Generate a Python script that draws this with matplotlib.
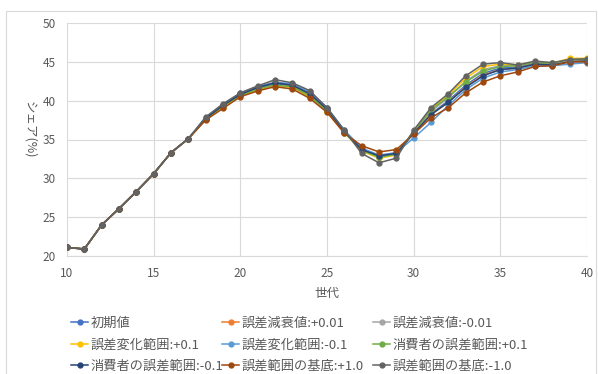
import matplotlib.pyplot as plt
from matplotlib.patches import Rectangle

plt.rcParams['font.family'] = ['Noto Sans CJK JP', 'DejaVu Sans']

generation = list(range(10, 41))

# 10-17 are shared by every run
start = [21.1, 20.9, 24.0, 26.1, 28.3, 30.6, 33.3, 35.1]

initial = start + [37.7, 39.3, 40.8, 41.6, 42.2, 41.9, 40.8, 38.8, 36.0, 33.7, 32.8, 33.2,
                   35.9, 38.3, 40.0, 42.0, 43.5, 44.2, 44.3, 44.8, 44.7, 45.1, 45.2]
decay_plus = start + [37.6, 39.2, 40.7, 41.5, 42.0, 41.8, 40.7, 38.8, 36.0, 33.8, 32.9, 33.3,
                      35.9, 38.2, 39.8, 41.8, 43.3, 44.0, 44.2, 44.7, 44.7, 45.1, 45.1]
decay_minus = start + [37.8, 39.4, 40.9, 41.8, 42.4, 42.1, 41.0, 39.0, 36.1, 33.6, 32.7, 33.1,
                       36.0, 38.6, 40.4, 42.5, 44.0, 44.5, 44.5, 44.9, 44.8, 45.2, 45.3]
change_plus = start + [37.6, 39.2, 40.6, 41.4, 41.9, 41.7, 40.5, 38.6, 35.9, 33.5, 32.6, 33.0,
                       36.1, 38.9, 40.7, 42.9, 44.4, 44.7, 44.6, 45.0, 44.8, 45.45, 45.45]
change_minus = start + [37.8, 39.5, 41.0, 41.8, 42.3, 42.2, 41.1, 39.1, 36.2, 33.9, 33.0, 33.3,
                        35.2, 37.2, 39.4, 41.4, 42.9, 43.7, 44.0, 44.5, 44.5, 44.7, 44.9]
consumer_plus = start + [37.7, 39.3, 40.7, 41.5, 42.0, 41.8, 40.6, 38.7, 35.9, 33.6, 32.7, 33.1,
                         36.0, 38.8, 40.5, 42.4, 43.8, 44.4, 44.5, 44.9, 44.8, 45.3, 45.3]
consumer_minus = start + [37.7, 39.4, 40.8, 41.7, 42.3, 42.0, 40.9, 38.9, 36.0, 33.7, 32.9, 33.2,
                          35.8, 38.2, 39.8, 41.7, 43.2, 44.0, 44.2, 44.7, 44.6, 45.0, 45.1]
base_plus = start + [37.5, 39.0, 40.5, 41.25, 41.8, 41.5, 40.3, 38.5, 35.8, 34.2, 33.4, 33.7,
                     35.7, 37.8, 39.1, 41.0, 42.4, 43.2, 43.7, 44.4, 44.5, 45.0, 45.0]
base_minus = start + [37.9, 39.6, 41.0, 41.9, 42.7, 42.3, 41.3, 39.1, 36.2, 33.2, 32.0, 32.6,
                      36.2, 39.1, 40.9, 43.2, 44.7, 44.9, 44.6, 45.1, 44.9, 45.3, 45.4]

series = [initial, decay_plus, decay_minus, change_plus, change_minus,
          consumer_plus, consumer_minus, base_plus, base_minus]
labels = ["初期値", "誤差減衰値:+0.01", "誤差減衰値:-0.01",
          "誤差変化範囲:+0.1", "誤差変化範囲:-0.1", "消費者の誤差範囲:+0.1",
          "消費者の誤差範囲:-0.1", "誤差範囲の基底:+1.0", "誤差範囲の基底:-1.0"]
colors = ["#4472C4", "#ED7D31", "#A5A5A5", "#FFC000", "#5B9BD5",
          "#70AD47", "#264478", "#9E480E", "#636363"]

text_color = "#595959"
grid_color = "#D9D9D9"

fig = plt.figure(figsize=(5.98, 3.74), dpi=100)
fig.patches.append(Rectangle((6 / 598, -0.1), 590 / 598, 1 - 11 / 374 + 0.1,
                             transform=fig.transFigure, fill=False,
                             edgecolor=grid_color, linewidth=0.8))
ax = fig.add_axes([67 / 598, 1 - 256 / 374, 520 / 598, 233 / 374])

handles = []
for vals, lab, col in zip(series, labels, colors):
    h, = ax.plot(generation, vals, color=col, marker="o", markersize=3.5,
                 linewidth=1.1, label=lab)
    handles.append(h)

ax.set_xlim(10, 40)
ax.set_ylim(20, 50)
ax.set_xticks(range(10, 41, 5))
ax.set_yticks(range(20, 51, 5))
ax.grid(True, color=grid_color, linewidth=0.8)
ax.set_axisbelow(True)
for side in ["top", "right", "left"]:
    ax.spines[side].set_visible(False)
ax.spines["bottom"].set_color(grid_color)
ax.tick_params(length=0, labelsize=8.5, colors=text_color, pad=8)

fig.text(327 / 598, 1 - 293 / 374, "世代", ha="center", va="center",
         fontsize=9, color=text_color)
fig.text(30 / 598, 1 - 130 / 374, "シェア(%)", ha="center", va="center",
         rotation=270, fontsize=9, color=text_color)

col_x = [71 / 598, 222 / 598, 373 / 598]
for i in range(3):
    fig.legend(handles[i::3], labels[i::3], loc="upper left",
               bbox_to_anchor=(col_x[i], 1 - 317 / 374), frameon=False,
               borderpad=0, borderaxespad=0, fontsize=9.5, labelcolor=text_color,
               handlelength=1.3, handletextpad=0.2, labelspacing=0.62)

fig.savefig("out.png", dpi=100)
